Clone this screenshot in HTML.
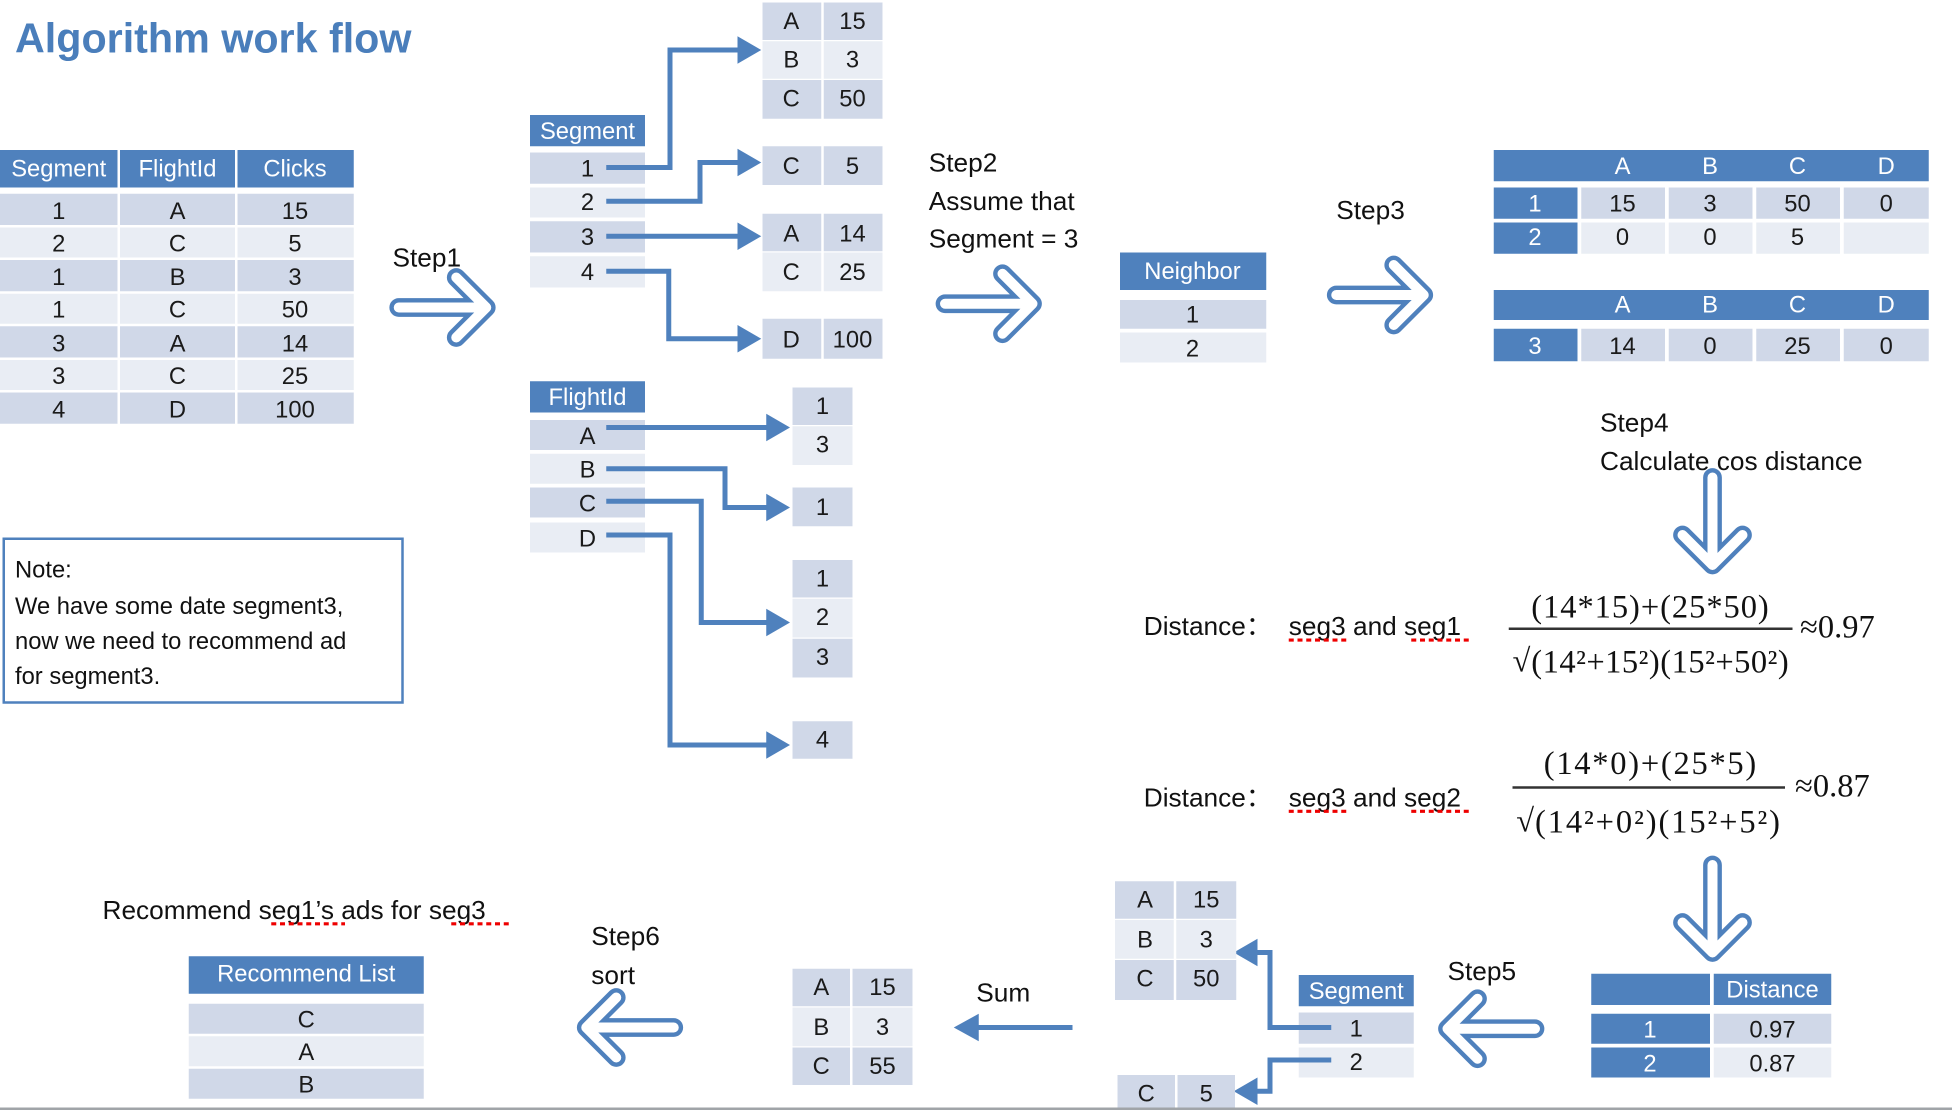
<!DOCTYPE html>
<html><head><meta charset="utf-8"><style>
html,body{margin:0;padding:0;background:#fff;width:1952px;height:1110px;overflow:hidden}
svg{display:block}
text{font-family:"Liberation Sans",sans-serif}
.c{font-size:19px;fill:#1a1a1a;text-anchor:middle}
.h{font-size:19px;fill:#fff;text-anchor:middle}
.s{font-size:21px;fill:#111}
.m{font-family:"Liberation Serif",serif;font-size:26px;fill:#111}
.hd{fill:#4f81bd}.dk{fill:#d0d8e8}.lt{fill:#e9edf4}
.ln{stroke:#4f81bd;stroke-width:4;fill:none}
.ah{fill:#4f81bd}
.ul{stroke:#e00;stroke-width:2.5;stroke-dasharray:4 3}
</style></head><body>
<svg width="1952" height="1110" viewBox="0 0 1561.6 888">
<text x="12" y="42" style="font-size:33px;font-weight:bold;fill:#4a7ebb">Algorithm work flow</text>

<!-- left table -->
<rect class="hd" x="0" y="120" width="94" height="30"/><rect class="hd" x="96" y="120" width="92" height="30"/><rect class="hd" x="190" y="120" width="93" height="30"/>
<text class="h" x="47" y="141">Segment</text><text class="h" x="142" y="141">FlightId</text><text class="h" x="236" y="141">Clicks</text>
<g>
<rect class="dk" x="0" y="155" width="94" height="25"/><rect class="dk" x="96" y="155" width="92" height="25"/><rect class="dk" x="190" y="155" width="93" height="25"/>
<rect class="lt" x="0" y="182" width="94" height="24"/><rect class="lt" x="96" y="182" width="92" height="24"/><rect class="lt" x="190" y="182" width="93" height="24"/>
<rect class="dk" x="0" y="208" width="94" height="25"/><rect class="dk" x="96" y="208" width="92" height="25"/><rect class="dk" x="190" y="208" width="93" height="25"/>
<rect class="lt" x="0" y="235" width="94" height="24"/><rect class="lt" x="96" y="235" width="92" height="24"/><rect class="lt" x="190" y="235" width="93" height="24"/>
<rect class="dk" x="0" y="261" width="94" height="25"/><rect class="dk" x="96" y="261" width="92" height="25"/><rect class="dk" x="190" y="261" width="93" height="25"/>
<rect class="lt" x="0" y="288" width="94" height="24"/><rect class="lt" x="96" y="288" width="92" height="24"/><rect class="lt" x="190" y="288" width="93" height="24"/>
<rect class="dk" x="0" y="314" width="94" height="25"/><rect class="dk" x="96" y="314" width="92" height="25"/><rect class="dk" x="190" y="314" width="93" height="25"/>
</g>
<text class="c" x="47" y="175">1</text><text class="c" x="142" y="175">A</text><text class="c" x="236" y="175">15</text>
<text class="c" x="47" y="201">2</text><text class="c" x="142" y="201">C</text><text class="c" x="236" y="201">5</text>
<text class="c" x="47" y="228">1</text><text class="c" x="142" y="228">B</text><text class="c" x="236" y="228">3</text>
<text class="c" x="47" y="254">1</text><text class="c" x="142" y="254">C</text><text class="c" x="236" y="254">50</text>
<text class="c" x="47" y="281">3</text><text class="c" x="142" y="281">A</text><text class="c" x="236" y="281">14</text>
<text class="c" x="47" y="307">3</text><text class="c" x="142" y="307">C</text><text class="c" x="236" y="307">25</text>
<text class="c" x="47" y="334">4</text><text class="c" x="142" y="334">D</text><text class="c" x="236" y="334">100</text>

<!-- open arrows -->
<defs>
<g id="oa"><path d="M0,0 L68,0 M46,-24 L70,0 L46,24" stroke="#4f81bd" stroke-width="15" stroke-linecap="round" stroke-linejoin="round" fill="none"/><path d="M0,0 L68,0 M46,-24 L70,0 L46,24" stroke="#fff" stroke-width="8" stroke-linecap="round" stroke-linejoin="round" fill="none"/></g>
</defs>
<text class="s" x="314" y="213">Step1</text>
<use href="#oa" transform="translate(319,246)"/>

<!-- segment split -->
<rect class="hd" x="424" y="92" width="92" height="25"/><text class="h" x="470" y="111">Segment</text>
<rect class="dk" x="424" y="122" width="92" height="25"/><text class="c" x="470" y="141">1</text>
<rect class="lt" x="424" y="150" width="92" height="24"/><text class="c" x="470" y="168">2</text>
<rect class="dk" x="424" y="177" width="92" height="25"/><text class="c" x="470" y="196">3</text>
<rect class="lt" x="424" y="205" width="92" height="25"/><text class="c" x="470" y="224">4</text>

<g>
<rect class="dk" x="610" y="2" width="47" height="30"/><rect class="dk" x="659" y="2" width="47" height="30"/>
<rect class="lt" x="610" y="33" width="47" height="30"/><rect class="lt" x="659" y="33" width="47" height="30"/>
<rect class="dk" x="610" y="64" width="47" height="31"/><rect class="dk" x="659" y="64" width="47" height="31"/>
<text class="c" x="633" y="23">A</text><text class="c" x="682" y="23">15</text>
<text class="c" x="633" y="54">B</text><text class="c" x="682" y="54">3</text>
<text class="c" x="633" y="85">C</text><text class="c" x="682" y="85">50</text>
<rect class="dk" x="610" y="117" width="47" height="31"/><rect class="dk" x="659" y="117" width="47" height="31"/>
<text class="c" x="633" y="139">C</text><text class="c" x="682" y="139">5</text>
<rect class="dk" x="610" y="171" width="47" height="30"/><rect class="dk" x="659" y="171" width="47" height="30"/>
<rect class="lt" x="610" y="202" width="47" height="31"/><rect class="lt" x="659" y="202" width="47" height="31"/>
<text class="c" x="633" y="193">A</text><text class="c" x="682" y="193">14</text>
<text class="c" x="633" y="224">C</text><text class="c" x="682" y="224">25</text>
<rect class="dk" x="610" y="255" width="47" height="32"/><rect class="dk" x="659" y="255" width="47" height="32"/>
<text class="c" x="633" y="278">D</text><text class="c" x="682" y="278">100</text>
</g>
<path class="ln" d="M485,134 H536 V40 H592"/><path class="ah" d="M590,29 L609,40 L590,51Z"/>
<path class="ln" d="M485,161 H560 V130 H592"/><path class="ah" d="M590,119 L609,130 L590,141Z"/>
<path class="ln" d="M485,189 H592"/><path class="ah" d="M590,178 L609,189 L590,200Z"/>
<path class="ln" d="M485,217 H535 V271 H592"/><path class="ah" d="M590,260 L609,271 L590,282Z"/>

<!-- flightid split -->
<rect class="hd" x="424" y="305" width="92" height="25"/><text class="h" x="470" y="324">FlightId</text>
<rect class="dk" x="424" y="336" width="92" height="24"/><text class="c" x="470" y="355">A</text>
<rect class="lt" x="424" y="363" width="92" height="24"/><text class="c" x="470" y="382">B</text>
<rect class="dk" x="424" y="390" width="92" height="24"/><text class="c" x="470" y="409">C</text>
<rect class="lt" x="424" y="418" width="92" height="24"/><text class="c" x="470" y="437">D</text>
<rect class="dk" x="634" y="310" width="48" height="30"/><rect class="lt" x="634" y="341" width="48" height="31"/>
<text class="c" x="658" y="331">1</text><text class="c" x="658" y="362">3</text>
<rect class="dk" x="634" y="390" width="48" height="31"/><text class="c" x="658" y="412">1</text>
<rect class="dk" x="634" y="448" width="48" height="30"/><rect class="lt" x="634" y="479" width="48" height="31"/><rect class="dk" x="634" y="511" width="48" height="31"/>
<text class="c" x="658" y="469">1</text><text class="c" x="658" y="500">2</text><text class="c" x="658" y="532">3</text>
<rect class="dk" x="634" y="577" width="48" height="30"/><text class="c" x="658" y="598">4</text>
<path class="ln" d="M485,342 H615"/><path class="ah" d="M613,331 L632,342 L613,353Z"/>
<path class="ln" d="M485,375 H580 V406 H615"/><path class="ah" d="M613,395 L632,406 L613,417Z"/>
<path class="ln" d="M485,401 H561 V498 H615"/><path class="ah" d="M613,487 L632,498 L613,509Z"/>
<path class="ln" d="M485,428 H536 V596 H615"/><path class="ah" d="M613,585 L632,596 L613,607Z"/>

<!-- note -->
<rect x="3" y="431" width="319" height="131" fill="none" stroke="#4f81bd" stroke-width="2"/>
<text class="s" style="font-size:19px" x="12" y="462">Note:</text>
<text class="s" style="font-size:19px" x="12" y="491">We have some date segment3,</text>
<text class="s" style="font-size:19px" x="12" y="519">now we need to recommend ad</text>
<text class="s" style="font-size:19px" x="12" y="547">for segment3.</text>

<!-- step2 -->
<text class="s" x="743" y="137">Step2</text>
<text class="s" x="743" y="168">Assume that</text>
<text class="s" x="743" y="198">Segment = 3</text>
<use href="#oa" transform="translate(756,243)"/>
<rect class="hd" x="896" y="202" width="117" height="30"/><text class="h" x="954" y="223">Neighbor</text>
<rect class="dk" x="896" y="240" width="117" height="23"/><text class="c" x="954" y="258">1</text>
<rect class="lt" x="896" y="266" width="117" height="24"/><text class="c" x="954" y="285">2</text>

<!-- step3 -->
<text class="s" x="1069" y="175">Step3</text>
<use href="#oa" transform="translate(1069,236)"/>
<g>
<rect class="hd" x="1195" y="120" width="348" height="25"/>
<text class="h" x="1298" y="139">A</text><text class="h" x="1368" y="139">B</text><text class="h" x="1438" y="139">C</text><text class="h" x="1509" y="139">D</text>
<rect class="hd" x="1195" y="150" width="67" height="25"/><rect class="dk" x="1265" y="150" width="67" height="25"/><rect class="dk" x="1335" y="150" width="67" height="25"/><rect class="dk" x="1405" y="150" width="67" height="25"/><rect class="dk" x="1475" y="150" width="68" height="25"/>
<text class="h" x="1228" y="169">1</text><text class="c" x="1298" y="169">15</text><text class="c" x="1368" y="169">3</text><text class="c" x="1438" y="169">50</text><text class="c" x="1509" y="169">0</text>
<rect class="hd" x="1195" y="178" width="67" height="25"/><rect class="lt" x="1265" y="178" width="67" height="25"/><rect class="lt" x="1335" y="178" width="67" height="25"/><rect class="lt" x="1405" y="178" width="67" height="25"/><rect class="lt" x="1475" y="178" width="68" height="25"/>
<text class="h" x="1228" y="196">2</text><text class="c" x="1298" y="196">0</text><text class="c" x="1368" y="196">0</text><text class="c" x="1438" y="196">5</text>
<rect class="hd" x="1195" y="232" width="348" height="24"/>
<text class="h" x="1298" y="250">A</text><text class="h" x="1368" y="250">B</text><text class="h" x="1438" y="250">C</text><text class="h" x="1509" y="250">D</text>
<rect class="hd" x="1195" y="263" width="67" height="26"/><rect class="dk" x="1265" y="263" width="67" height="26"/><rect class="dk" x="1335" y="263" width="67" height="26"/><rect class="dk" x="1405" y="263" width="67" height="26"/><rect class="dk" x="1475" y="263" width="68" height="26"/>
<text class="h" x="1228" y="283">3</text><text class="c" x="1298" y="283">14</text><text class="c" x="1368" y="283">0</text><text class="c" x="1438" y="283">25</text><text class="c" x="1509" y="283">0</text>
</g>

<!-- step4 -->
<text class="s" x="1280" y="345">Step4</text>
<text class="s" x="1280" y="376">Calculate cos distance</text>
<use href="#oa" transform="translate(1370,382) rotate(90)"/>

<text class="s" x="915" y="508">Distance：</text>
<text class="s" x="1031" y="508">seg3 and seg1</text>
<line class="ul" x1="1031" y1="512" x2="1079" y2="512"/><line class="ul" x1="1129" y1="512" x2="1177" y2="512"/>
<text class="m" x="1320" y="494" text-anchor="middle" textLength="190">(14*15)+(25*50)</text>
<line x1="1207" y1="503" x2="1434" y2="503" stroke="#333" stroke-width="2"/>
<text class="m" x="1210" y="537">√</text>
<text class="m" x="1225" y="538" textLength="206">(14²+15²)(15²+50²)</text>
<text class="m" x="1440" y="510">≈0.97</text>

<text class="s" x="915" y="645">Distance：</text>
<text class="s" x="1031" y="645">seg3 and seg2</text>
<line class="ul" x1="1031" y1="649" x2="1079" y2="649"/><line class="ul" x1="1129" y1="649" x2="1177" y2="649"/>
<text class="m" x="1320" y="619" text-anchor="middle" textLength="170">(14*0)+(25*5)</text>
<line x1="1210" y1="630" x2="1428" y2="630" stroke="#333" stroke-width="2"/>
<text class="m" x="1213" y="665">√</text>
<text class="m" x="1228" y="666" textLength="196">(14²+0²)(15²+5²)</text>
<text class="m" x="1436" y="637">≈0.87</text>

<use href="#oa" transform="translate(1370,692) rotate(90)"/>

<!-- distance table -->
<rect class="hd" x="1273" y="779" width="95" height="25"/><rect class="hd" x="1371" y="779" width="94" height="25"/><text class="h" x="1418" y="798">Distance</text>
<rect class="hd" x="1273" y="811" width="95" height="24"/><rect class="dk" x="1371" y="811" width="94" height="24"/>
<text class="h" x="1320" y="830">1</text><text class="c" x="1418" y="830">0.97</text>
<rect class="hd" x="1273" y="838" width="95" height="24"/><rect class="lt" x="1371" y="838" width="94" height="24"/>
<text class="h" x="1320" y="857">2</text><text class="c" x="1418" y="857">0.87</text>

<!-- step5 -->
<text class="s" x="1158" y="784">Step5</text>
<use href="#oa" transform="translate(1228,823) rotate(180)"/>
<rect class="hd" x="1039" y="780" width="92" height="25"/><text class="h" x="1085" y="799">Segment</text>
<rect class="dk" x="1039" y="810" width="92" height="25"/><text class="c" x="1085" y="829">1</text>
<rect class="lt" x="1039" y="838" width="92" height="24"/><text class="c" x="1085" y="856">2</text>
<path class="ln" d="M1065,822 H1016 V762 H1004"/><path class="ah" d="M1006,751 L987,762 L1006,773Z"/>
<path class="ln" d="M1065,848 H1016 V873 H1004"/><path class="ah" d="M1006,862 L987,873 L1006,884Z"/>
<rect class="dk" x="892" y="705" width="47" height="30"/><rect class="dk" x="941" y="705" width="48" height="30"/>
<rect class="lt" x="892" y="736" width="47" height="31"/><rect class="lt" x="941" y="736" width="48" height="31"/>
<rect class="dk" x="892" y="768" width="47" height="32"/><rect class="dk" x="941" y="768" width="48" height="32"/>
<text class="c" x="916" y="726">A</text><text class="c" x="965" y="726">15</text>
<text class="c" x="916" y="758">B</text><text class="c" x="965" y="758">3</text>
<text class="c" x="916" y="789">C</text><text class="c" x="965" y="789">50</text>
<rect class="dk" x="894" y="860" width="46" height="28"/><rect class="dk" x="942" y="860" width="46" height="28"/>
<text class="c" x="917" y="881">C</text><text class="c" x="965" y="881">5</text>

<!-- sum -->
<text class="s" x="781" y="801">Sum</text>
<path class="ln" d="M858,822 H780"/><path class="ah" d="M783,811 L763,822 L783,833Z"/>
<rect class="dk" x="634" y="775" width="46" height="30"/><rect class="dk" x="682" y="775" width="48" height="30"/>
<rect class="lt" x="634" y="806" width="46" height="31"/><rect class="lt" x="682" y="806" width="48" height="31"/>
<rect class="dk" x="634" y="838" width="46" height="30"/><rect class="dk" x="682" y="838" width="48" height="30"/>
<text class="c" x="657" y="796">A</text><text class="c" x="706" y="796">15</text>
<text class="c" x="657" y="828">B</text><text class="c" x="706" y="828">3</text>
<text class="c" x="657" y="859">C</text><text class="c" x="706" y="859">55</text>

<!-- step6 -->
<text class="s" x="473" y="756">Step6</text>
<text class="s" x="473" y="787">sort</text>
<use href="#oa" transform="translate(539,822) rotate(180)"/>

<text class="s" x="82" y="735">Recommend seg1’s ads for seg3</text>
<line class="ul" x1="217" y1="739" x2="276" y2="739"/><line class="ul" x1="361" y1="739" x2="409" y2="739"/>
<rect class="hd" x="151" y="765" width="188" height="30"/><text class="h" x="245" y="785">Recommend List</text>
<rect class="dk" x="151" y="803" width="188" height="24"/><text class="c" x="245" y="822">C</text>
<rect class="lt" x="151" y="829" width="188" height="24"/><text class="c" x="245" y="848">A</text>
<rect class="dk" x="151" y="855" width="188" height="24"/><text class="c" x="245" y="874">B</text>

<rect x="0" y="886" width="1562" height="3" fill="#a0a4a8"/>
</svg>
</body></html>
